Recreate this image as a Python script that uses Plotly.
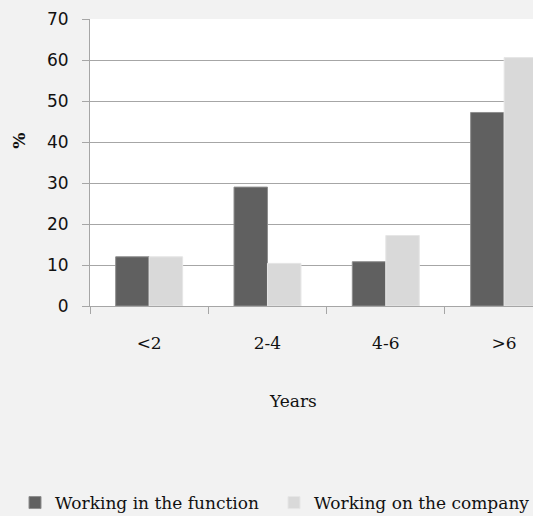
import plotly.graph_objects as go

# Years of experience, share of respondents (%)
categories = ["<2", "2-4", "4-6", ">6"]
in_function = [12, 29, 10.8, 47.2]
on_company = [12, 10.4, 17.2, 60.6]
y_ticks = [0, 10, 20, 30, 40, 50, 60, 70]

serif = "DejaVu Serif"
sans = "DejaVu Sans"
grey = "#a6a6a6"
ink = "#111111"

fig = go.Figure()
fig.add_trace(go.Bar(
    x=categories, y=in_function, name="Working in the function",
    marker=dict(color="#606060", line=dict(color="#8e8e8e", width=1)),
))
fig.add_trace(go.Bar(
    x=categories, y=on_company, name="Working on the company",
    marker=dict(color="#d9d9d9", line=dict(color="#e6e6e6", width=1)),
))

fig.update_layout(
    width=533, height=516,
    margin=dict(l=90, r=0, t=19, b=210, autoexpand=False),
    paper_bgcolor="#f2f2f2",
    plot_bgcolor="#ffffff",
    barmode="group",
    bargap=0.434,
    bargroupgap=0,
    showlegend=True,
    legend=dict(
        orientation="h",
        x=(15 - 90) / 443, y=-(503 - 306) / 287, xanchor="left", yanchor="middle",
        font=dict(family=serif, size=17, color=ink),
        bgcolor="rgba(0,0,0,0)", itemwidth=30, tracegroupgap=0,
        entrywidth=214, entrywidthmode="pixels",
    ),
    xaxis=dict(
        type="category",
        range=[-0.5, 3.244],
        showline=True, linecolor=grey, linewidth=1,
        ticks="outside", tickson="boundaries", ticklen=7, tickcolor=grey,
        tickfont=dict(family=serif, size=17, color=ink),
        ticklabelstandoff=22,
        showgrid=False,
    ),
    yaxis=dict(
        range=[0, 70], tickvals=y_ticks,
        showline=True, linecolor=grey, linewidth=1,
        ticks="outside", ticklen=7, tickcolor=grey,
        tickfont=dict(family=sans, size=17, color=ink),
        ticklabelstandoff=10,
        showgrid=True, gridcolor=grey, gridwidth=1,
        zeroline=False,
    ),
    annotations=[
        dict(text="Years", xref="paper", yref="paper", x=(293 - 90) / 443, y=-0.33,
             showarrow=False, font=dict(family=serif, size=17, color=ink),
             xanchor="center", yanchor="middle"),
        dict(text="<b>%</b>", xref="paper", yref="paper", x=-0.161, y=0.575,
             showarrow=False, textangle=-90,
             font=dict(family=serif, size=17, color=ink),
             xanchor="center", yanchor="middle"),
    ],
)

fig.write_html("out.html")
